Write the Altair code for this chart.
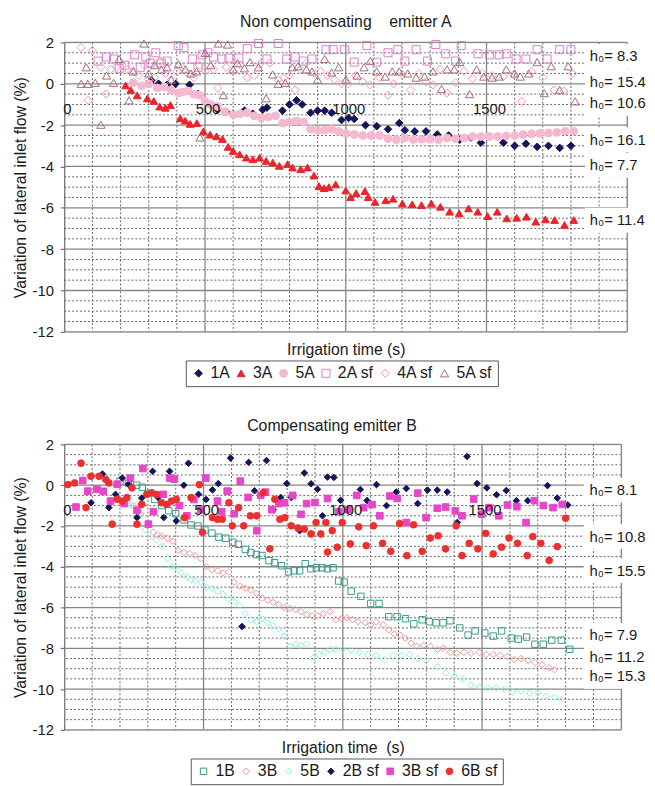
import altair as alt
import pandas as pd

FONT = "Liberation Sans"
TXT = "#1a1a1a"

# ---------------- axes / grid values ----------------
X_DOMAIN = [0, 2000]
Y_DOMAIN = [-12, 2]
Y_MAJOR = [2, 0, -2, -4, -6, -8, -10, -12]
Y_MINOR = [1.5, 1, 0.5, -0.5, -1, -1.5, -2.5, -3, -3.5, -4.5, -5, -5.5, -6.5, -7, -7.5,
           -8.5, -9, -9.5, -10.5, -11, -11.5]
X_MAJOR = [500, 1000, 1500, 2000]
X_MINOR = [100, 200, 300, 400, 600, 700, 800, 900, 1100, 1200, 1300, 1400, 1600, 1700, 1800, 1900]
X_TICK_VALUES = [0, 500, 1000, 1500]
X_TICK_TEXT = ["0", "500", "1000", "1500"]

# ---------------- panel A data (time s, variation %) ----------------
A_NAMES = ["1A", "3A", "5A", "2A sf", "4A sf", "5A sf"]
A_1A = [(310, 0.15), (335, 0.0), (365, -0.05), (395, 0.0), (445, -0.05), (475, -0.5), (545, -1.25),
        (575, -1.35), (600, -1.45), (640, -1.3), (670, -1.45), (705, -1.25), (720, -1.15), (775, -1.3),
        (800, -1.0), (825, -0.8), (845, -1.0), (875, -1.4), (900, -1.3), (925, -1.3), (950, -1.4),
        (985, -1.75), (1010, -1.65), (1030, -1.7), (1070, -2.0), (1110, -2.05), (1150, -2.2), (1190, -1.9),
        (1210, -2.25), (1245, -2.3), (1285, -2.3), (1325, -2.45), (1365, -2.5), (1405, -2.7), (1445, -2.6),
        (1480, -2.85), (1560, -2.85), (1600, -3.0), (1640, -2.9), (1680, -3.05), (1720, -3.0), (1760, -3.1),
        (1800, -3.0)]
A_3A = [(218, -0.08), (236, -0.3), (259, -0.56), (295, -0.71), (318, -0.83), (339, -1.1), (359, -1.16),
        (377, -1.03), (412, -1.67), (430, -1.78), (447, -1.94), (471, -1.9), (494, -2.3), (518, -2.46),
        (541, -2.54), (562, -2.67), (582, -3.05), (600, -3.25), (623, -3.41), (647, -3.57), (670, -3.65),
        (694, -3.57), (717, -3.73), (741, -3.81), (764, -3.97), (793, -3.89), (811, -4.05), (840, -4.13),
        (864, -4.05), (887, -4.44), (905, -4.95), (923, -5.05), (940, -5.0), (964, -4.87), (1000, -5.16),
        (1017, -5.48), (1037, -5.29), (1068, -5.19), (1080, -5.48), (1104, -5.71), (1142, -5.63),
        (1168, -5.56), (1201, -5.79), (1236, -5.83), (1269, -5.87), (1304, -5.79), (1336, -5.95),
        (1369, -6.19), (1403, -6.27), (1436, -6.03), (1469, -6.19), (1504, -6.4), (1538, -6.19),
        (1572, -6.51), (1607, -6.48), (1642, -6.43), (1675, -6.67), (1709, -6.56), (1742, -6.59),
        (1777, -6.83), (1810, -6.59)]
A_5A = [(245, 0.05), (275, -0.1), (300, 0.0), (330, -0.2), (355, -0.15), (380, -0.3), (405, -0.45),
        (420, -0.4), (440, -0.35), (460, -0.5), (480, -0.55), (500, -0.85), (520, -1.0), (545, -1.1),
        (570, -1.35), (600, -1.5), (625, -1.45), (650, -1.4), (675, -1.55), (700, -1.65), (725, -1.6),
        (750, -1.55), (775, -1.9), (800, -1.85), (825, -1.8), (850, -1.85), (875, -2.2), (900, -2.25),
        (925, -2.25), (950, -2.2), (975, -2.3), (1000, -2.4), (1030, -2.45), (1060, -2.5), (1090, -2.5),
        (1120, -2.5), (1150, -2.65), (1180, -2.7), (1210, -2.62), (1240, -2.7), (1270, -2.68), (1300, -2.68),
        (1330, -2.7), (1360, -2.62), (1390, -2.65), (1420, -2.62), (1450, -2.55), (1480, -2.55),
        (1510, -2.55), (1540, -2.55), (1570, -2.52), (1600, -2.5), (1630, -2.45), (1660, -2.42),
        (1690, -2.4), (1720, -2.38), (1750, -2.35), (1780, -2.3), (1810, -2.3)]
A_2Asf = [(120, 1.1), (150, 1.3), (175, 1.2), (195, 0.75), (215, 0.9), (250, 1.4), (270, 0.8), (290, 1.3),
          (305, 1.0), (325, 1.5), (345, 1.0), (365, 1.1), (405, 1.85), (425, 1.75), (455, 1.2), (475, 0.8),
          (490, 1.4), (510, 1.5), (530, 1.3), (560, 1.2), (585, 1.25), (620, 1.25), (650, 1.7), (690, 1.95),
          (720, 1.2), (760, 1.95), (790, 1.2), (820, 1.3), (850, 1.1), (880, 1.2), (930, 1.65), (955, 1.65),
          (995, 1.65), (1030, 1.05), (1075, 1.85), (1110, 1.05), (1150, 1.5), (1185, 1.65), (1210, 1.1),
          (1250, 1.65), (1290, 1.1), (1320, 1.9), (1355, 1.45), (1390, 1.1), (1410, 1.85), (1470, 1.45),
          (1510, 1.4), (1545, 1.4), (1570, 1.45), (1605, 1.2), (1640, 1.2), (1680, 1.65), (1715, 1.2),
          (1760, 1.65), (1800, 1.65)]
A_4Asf = [(60, 1.75), (85, -0.8), (100, 1.6), (130, 0.8), (148, -0.5), (165, 0.7), (185, 0.8), (205, 0.9),
          (225, 0.7), (245, 0.6), (265, 0.4), (285, 0.9), (300, 0.2), (320, 0.3), (340, 1.1), (360, 0.5),
          (380, 0.2), (400, 0.6), (420, 0.8), (440, 0.5), (460, 0.3), (480, 0.9), (500, 0.6), (530, 0.7),
          (545, -0.2), (575, 0.8), (600, 0.6), (625, 0.9), (650, 0.3), (675, 0.4), (695, 0.95), (730, 1.0),
          (760, 0.2), (780, 0.3), (800, 0.4), (820, -0.3), (840, 0.7), (860, 1.0), (890, 0.5), (910, 0.6),
          (935, 0.4), (960, 0.2), (985, 0.0), (1010, 0.0), (1035, 0.4), (1060, 0.1), (1085, -0.05),
          (1120, 0.3), (1150, -0.55), (1170, 0.0), (1200, 0.45), (1230, -0.3), (1260, 0.5), (1285, 0.1),
          (1310, -0.05), (1335, 0.7), (1360, -0.45), (1390, 0.05), (1420, 0.6), (1450, 0.25), (1485, 0.5),
          (1520, 0.4), (1560, 0.35), (1595, 0.45), (1625, -0.85), (1660, 0.6), (1700, 0.3), (1740, -0.3),
          (1775, -0.35), (1805, 0.5)]
A_5Asf = [(60, 0.0), (78, 0.8), (83, 0.0), (110, 0.05), (130, -1.98), (150, 0.4), (175, 0.05), (195, 1.2),
          (230, -0.8), (245, 0.6), (283, 1.95), (300, 0.5), (320, 0.9), (345, 0.7), (365, 0.8), (380, 0.2),
          (405, 0.95), (430, 0.7), (450, 0.5), (470, 0.6), (482, -2.6), (500, 1.5), (520, 0.9), (547, 1.95),
          (565, -0.55), (580, 1.9), (600, 0.7), (615, 1.0), (640, 0.75), (660, 1.05), (690, 0.8),
          (717, -0.7), (740, 0.45), (760, 0.0), (785, 0.05), (810, 0.8), (830, 0.85), (860, 0.7), (880, 0.6),
          (900, 0.2), (925, 1.2), (950, 0.55), (975, 0.8), (1000, 0.2), (1040, 0.4), (1065, 0.8),
          (1087, 1.1), (1110, 0.6), (1140, 0.35), (1165, 0.6), (1190, 0.6), (1220, 0.5), (1250, 0.3),
          (1280, 0.35), (1310, 0.6), (1340, -0.25), (1360, 0.7), (1385, 0.7), (1405, 1.05), (1440, -0.5),
          (1465, 0.7), (1490, 0.35), (1520, 0.3), (1545, 0.35), (1570, 0.7), (1600, 0.5), (1620, 0.35),
          (1650, 0.5), (1680, 1.05), (1705, -0.45), (1730, 0.85), (1760, -0.3), (1790, 0.85), (1815, -0.85)]
A_STROKES = ["#15155a", "#e8242c", "#f6b8cf", "#e07ccc", "#ee98b6", "#a46a78"]
A_FILLS = ["#15155a", "#e8242c", "#f6b8cf", "transparent", "transparent", "transparent"]
A_SHAPES = ["diamond", "triangle-up", "circle", "square", "diamond", "triangle-up"]
A_SIZES = [60, 70, 24, 44, 46, 60]
A_H_LABELS = ["h₀= 8.3", "h₀= 15.4", "h₀= 10.6", "h₀= 16.1", "h₀= 7.7", "h₀= 11.4"]
A_H_Y = [1.33, 0.1, -0.95, -2.7, -3.95, -6.6]

# ---------------- panel B data ----------------
B_NAMES = ["1B", "3B", "5B", "2B sf", "3B sf", "6B sf"]
B_1B = [(200, 0.2), (230, 0.1), (260, 0.0), (280, -0.1), (300, -0.4), (325, -0.7), (350, -1.0), (375, -1.25),
        (400, -1.4), (430, -1.7), (455, -1.95), (480, -2.0), (505, -2.2), (530, -2.35), (555, -2.55),
        (580, -2.6), (605, -2.8), (625, -2.9), (650, -3.15), (670, -3.3), (690, -3.4), (710, -3.45),
        (735, -3.7), (755, -3.8), (780, -3.95), (805, -4.25), (825, -4.2), (845, -4.2), (865, -3.85),
        (885, -4.1), (905, -4.05), (925, -4.05), (945, -4.1), (965, -4.05), (985, -4.7), (1005, -4.75),
        (1030, -5.2), (1065, -5.45), (1100, -5.8), (1130, -5.8), (1165, -6.45), (1195, -6.45), (1225, -6.55),
        (1255, -6.8), (1285, -6.6), (1310, -6.7), (1335, -6.75), (1360, -6.75), (1385, -6.65), (1420, -7.0),
        (1450, -7.35), (1475, -7.15), (1510, -7.25), (1540, -7.4), (1570, -7.15), (1605, -7.5), (1630, -7.55),
        (1660, -7.45), (1690, -7.8), (1720, -7.8), (1750, -7.6), (1785, -7.6), (1815, -8.05)]
B_3B = [(225, -0.85), (250, -1.0), (275, -1.4), (300, -1.9), (320, -2.3), (335, -2.45), (350, -2.5),
        (370, -2.6), (390, -2.75), (410, -3.2), (430, -3.3), (450, -3.35), (470, -3.45), (490, -3.6),
        (510, -4.0), (530, -4.15), (550, -4.2), (570, -4.3), (590, -4.25), (610, -4.75), (630, -4.95),
        (650, -5.05), (670, -5.15), (690, -5.3), (710, -5.55), (730, -5.65), (750, -5.75), (770, -5.85),
        (790, -6.0), (810, -6.05), (830, -6.1), (850, -6.2), (870, -6.35), (890, -6.4), (910, -6.4),
        (930, -6.3), (955, -6.2), (975, -6.6), (995, -6.55), (1015, -6.5), (1035, -6.6), (1055, -6.7),
        (1080, -6.75), (1100, -6.85), (1120, -6.7), (1145, -6.85), (1165, -7.1), (1185, -7.3), (1205, -7.35),
        (1225, -7.5), (1245, -7.75), (1265, -7.9), (1290, -7.85), (1315, -7.9), (1340, -8.05), (1360, -8.0),
        (1385, -8.2), (1410, -8.25), (1435, -8.2), (1460, -8.25), (1490, -8.2), (1515, -8.3), (1540, -8.3),
        (1565, -8.35), (1590, -8.4), (1615, -8.55), (1640, -8.5), (1665, -8.6), (1690, -8.7), (1715, -8.8),
        (1740, -8.95), (1760, -9.05)]
B_5B = [(240, -1.0), (265, -1.5), (290, -2.2), (310, -2.5), (330, -2.7), (350, -3.0), (370, -3.6), (385, -4.0),
        (400, -4.05), (420, -4.3), (440, -4.5), (455, -4.65), (470, -4.7), (490, -4.75), (510, -5.0),
        (530, -5.05), (550, -5.2), (570, -5.35), (590, -5.6), (610, -5.7), (630, -5.9), (650, -6.3),
        (670, -6.6), (690, -6.7), (710, -6.55), (730, -6.75), (750, -6.9), (770, -7.05), (790, -7.4),
        (810, -7.9), (830, -7.8), (850, -7.85), (870, -7.8), (895, -8.45), (915, -8.3), (935, -8.2),
        (955, -8.05), (975, -8.05), (1000, -8.05), (1030, -8.1), (1060, -8.2), (1090, -8.3), (1120, -8.35),
        (1150, -8.55), (1180, -8.35), (1210, -8.35), (1240, -8.3), (1270, -8.5), (1300, -8.6), (1340, -8.9),
        (1370, -9.2), (1400, -9.35), (1430, -9.5), (1460, -9.8), (1490, -9.9), (1520, -9.95), (1550, -9.95),
        (1580, -10.0), (1610, -10.15), (1640, -10.1), (1670, -10.2), (1700, -10.2), (1730, -10.35),
        (1760, -10.4), (1785, -10.5)]
B_2Bsf = [(96, -0.86), (137, 0.55), (160, -1.1), (184, -0.45), (208, 0.35), (230, 0.05), (261, -1.59),
          (278, -0.63), (317, 0.68), (337, -0.6), (357, -1.59), (378, 0.68), (402, -1.75), (429, 0.0),
          (446, 1.08), (482, -0.45), (509, -0.7), (532, -0.23), (553, 0.08), (597, 1.33), (638, -6.93),
          (662, 1.12), (683, -0.27), (709, -0.47), (726, 1.21), (750, -1.21), (777, -0.6), (799, 0.08),
          (815, -0.6), (845, -2.23), (862, 0.6), (886, 0.07), (909, -0.2), (927, -1.5), (945, 0.4),
          (968, 0.38), (992, -0.74), (1063, -0.21), (1087, -0.75), (1121, 0.03), (1157, -1.0), (1192, -0.33),
          (1228, -0.16), (1269, -0.9), (1304, -0.24), (1339, -0.24), (1375, -0.33), (1411, -1.83),
          (1446, 1.41), (1482, 0.08), (1517, -0.13), (1552, -0.47), (1587, -0.26), (1623, -0.76),
          (1664, -0.76), (1735, -0.02), (1770, -0.63), (1808, -0.97)]
B_3Bsf = [(42, -1.07), (66, 0.23), (84, -0.29), (117, -0.2), (140, -0.3), (166, -0.78), (190, 0.05),
          (215, -0.9), (237, 0.35), (261, -1.23), (282, 0.82), (302, -1.91), (320, -1.3), (355, -0.45),
          (379, 0.35), (395, 0.3), (414, -1.0), (440, -1.5), (465, -0.7), (490, -1.2), (508, 0.35),
          (550, -0.78), (565, -1.3), (585, -0.29), (610, -1.4), (632, 0.2), (660, -0.6), (691, -2.23),
          (705, -0.5), (722, -0.34), (745, -1.2), (770, -0.9), (791, -0.86), (820, -0.5), (850, -1.43),
          (870, -0.9), (900, -0.85), (945, -0.65), (985, -1.3), (1020, -1.2), (1050, -0.5), (1075, -1.1),
          (1105, -0.95), (1133, -1.5), (1169, -0.53), (1195, -0.65), (1228, -1.83), (1269, -0.39),
          (1299, -1.59), (1339, -1.13), (1369, -1.07), (1404, -1.26), (1428, -1.5), (1470, -0.68),
          (1499, -1.42), (1525, -1.1), (1560, -1.5), (1591, -0.97), (1625, -1.05), (1658, -1.83),
          (1688, -0.76), (1720, -1.0), (1755, -1.1), (1788, -0.94)]
B_6Bsf = [(13, 0.03), (37, 0.11), (60, 1.08), (78, -1.1), (96, 0.44), (125, 0.44), (149, 0.28), (160, 0.11),
          (172, -1.91), (190, -0.69), (208, -0.78), (225, -0.61), (243, -0.13), (261, -1.91), (278, -0.94),
          (296, -0.45), (314, -0.37), (332, -0.45), (349, -0.86), (367, -0.94), (385, -0.78), (402, -0.69),
          (432, -1.59), (455, -0.61), (485, 0.03), (496, -2.31), (532, -1.59), (550, -1.67), (567, -1.67),
          (591, -0.86), (603, -1.99), (626, -1.1), (644, -1.99), (668, -1.5), (691, -1.5), (715, -0.37),
          (738, -3.12), (756, -0.69), (774, -1.67), (792, -1.59), (815, -1.99), (839, -2.1), (862, -2.15),
          (886, -2.39), (904, -1.83), (921, -2.39), (939, -1.83), (945, -3.28), (962, -2.23), (980, -3.04),
          (998, -1.83), (1027, -2.88), (1057, -2.04), (1084, -2.96), (1110, -1.99), (1143, -2.85),
          (1172, -3.24), (1204, -1.88), (1230, -3.45), (1254, -1.94), (1285, -3.24), (1314, -2.59),
          (1342, -2.48), (1369, -3.12), (1407, -1.99), (1428, -3.45), (1454, -2.85), (1485, -3.12),
          (1513, -2.36), (1540, -3.37), (1570, -3.04), (1597, -2.59), (1627, -2.85), (1662, -3.45),
          (1682, -2.52), (1711, -2.85), (1741, -3.69), (1770, -3.01), (1800, -1.62)]
B_STROKES = ["#3a9a86", "#e89696", "#8eeedc", "#15155a", "#e646c8", "#ec3030"]
B_FILLS = ["transparent", "transparent", "transparent", "#15155a", "#e646c8", "#ec3030"]
B_SHAPES = ["square", "diamond", "diamond", "diamond", "square", "circle"]
B_SIZES = [42, 46, 52, 60, 60, 60]
B_H_LABELS = ["h₀= 8.1", "h₀= 10.8", "h₀= 15.5", "h₀= 7.9", "h₀= 11.2", "h₀= 15.3"]
B_H_Y = [-0.24, -2.52, -4.2, -7.36, -8.41, -9.38]


def build_panel(names, series, strokes, fills, shapes, sizes, h_labels, h_y, title, title_dx,
                title_offset, xtitle, width, height, lx, ly, label_x, box_x0, box_x1, tick_label_y):
    rows = [{"t": x, "v": y, "series": n} for n, pts in zip(names, series) for x, y in pts]
    pts_df = pd.DataFrame(rows)
    xs = alt.Scale(domain=X_DOMAIN, nice=False, zero=False)
    ys = alt.Scale(domain=Y_DOMAIN, nice=False, zero=False)
    xax = alt.Axis(title=xtitle, labels=False, ticks=False, domain=False, grid=False,
                   titleFontSize=16, titleFontWeight="normal", titleColor=TXT, titleFont=FONT,
                   titlePadding=10)
    yax = alt.Axis(title="Variation of lateral inlet flow (%)", values=Y_MAJOR, grid=False,
                   domain=True, domainColor="#555555", ticks=True, tickSize=4, tickColor="#555555",
                   labelPadding=7, labelFontSize=15, labelColor=TXT, labelFont=FONT,
                   labelExpr="toString(datum.value)", titleFontSize=16, titleFontWeight="normal",
                   titleColor=TXT, titleFont=FONT, titlePadding=4)

    def X(field="t"):
        return alt.X(f"{field}:Q", scale=xs, axis=xax)

    def Y(field="v"):
        return alt.Y(f"{field}:Q", scale=ys, axis=yax)

    hminor = alt.Chart(pd.DataFrame({"v": Y_MINOR})).mark_rule(
        color="#666666", strokeDash=[2, 2], strokeWidth=1).encode(y=Y())
    vminor = alt.Chart(pd.DataFrame({"t": X_MINOR})).mark_rule(
        color="#666666", strokeDash=[2, 2], strokeWidth=1).encode(x=X())
    hmajor = alt.Chart(pd.DataFrame({"v": Y_MAJOR})).mark_rule(
        color="#858585", strokeWidth=1.3).encode(y=Y())
    vmajor = alt.Chart(pd.DataFrame({"t": X_MAJOR})).mark_rule(
        color="#858585", strokeWidth=1.3).encode(x=X())

    box_df = pd.DataFrame({"t": [box_x0] * len(h_y), "t2": [box_x1] * len(h_y),
                           "v": [v - 0.6 for v in h_y], "v2": [v + 0.6 for v in h_y]})
    boxes = alt.Chart(box_df).mark_rect(fill="white").encode(x=X(), x2="t2:Q", y=Y(), y2="v2:Q")

    leg = alt.Legend(orient="none", legendX=lx, legendY=ly, direction="horizontal", columns=6,
                     title=None, strokeColor="#555555", fillColor="white", padding=5,
                     labelFontSize=16, labelFont=FONT, labelColor=TXT, labelOffset=4,
                     columnPadding=3, symbolStrokeWidth=1, labelLimit=0)
    points = alt.Chart(pts_df).mark_point(opacity=1, strokeWidth=1).encode(
        x=X(), y=Y(),
        shape=alt.Shape("series:N", scale=alt.Scale(domain=names, range=shapes), legend=leg),
        fill=alt.Fill("series:N", scale=alt.Scale(domain=names, range=fills), legend=leg),
        stroke=alt.Stroke("series:N", scale=alt.Scale(domain=names, range=strokes), legend=leg),
        size=alt.Size("series:N", scale=alt.Scale(domain=names, range=sizes), legend=leg),
    )

    tick_df = pd.DataFrame({"t": X_TICK_VALUES, "v": [tick_label_y] * len(X_TICK_VALUES),
                            "label": X_TICK_TEXT})
    ticks = alt.Chart(tick_df).mark_text(fontSize=15, font=FONT, color=TXT, align="center",
                                         baseline="middle", dx=3).encode(x=X(), y=Y(), text="label:N")

    h_df = pd.DataFrame({"t": [label_x] * len(h_y), "v": h_y, "label": h_labels})
    hlab = alt.Chart(h_df).mark_text(fontSize=15, font=FONT, color=TXT, align="left",
                                     baseline="middle").encode(x=X(), y=Y(), text="label:N")

    return alt.layer(hminor, vminor, hmajor, vmajor, boxes, points, ticks, hlab).properties(
        width=width, height=height,
        title=alt.TitleParams(text=title, fontSize=16, fontWeight="normal", font=FONT, color=TXT,
                              anchor="middle", frame="group", offset=title_offset, dx=title_dx),
    )


panel_a = build_panel(A_NAMES, [A_1A, A_3A, A_5A, A_2Asf, A_4Asf, A_5Asf], A_STROKES, A_FILLS,
                      A_SHAPES, A_SIZES, A_H_LABELS, A_H_Y,
                      "Non compensating\u00a0\u00a0\u00a0 emitter A", 0, 6, "Irrigation time (s)",
                      570, 293, 123, 322, 1867, 1850, 2040, -1.24)
panel_b = build_panel(B_NAMES, [B_1B, B_3B, B_5B, B_2Bsf, B_3Bsf, B_6Bsf], B_STROKES, B_FILLS,
                      B_SHAPES, B_SIZES, B_H_LABELS, B_H_Y,
                      "Compensating emitter B", -11, 4, "Irrigation time\u00a0 (s)",
                      564, 289, 128, 318, 1886, 1865, 2045, -1.21)

chart = alt.vconcat(panel_a, panel_b, spacing=30).resolve_scale(
    shape="independent", fill="independent", stroke="independent", size="independent"
).resolve_legend(
    shape="independent", fill="independent", stroke="independent", size="independent"
).properties(
    padding={"left": 3, "top": 0, "right": 0, "bottom": 0}
).configure_view(strokeWidth=0).configure(font=FONT)

chart.save("out.html", embed_options={"renderer": "svg", "actions": False})
